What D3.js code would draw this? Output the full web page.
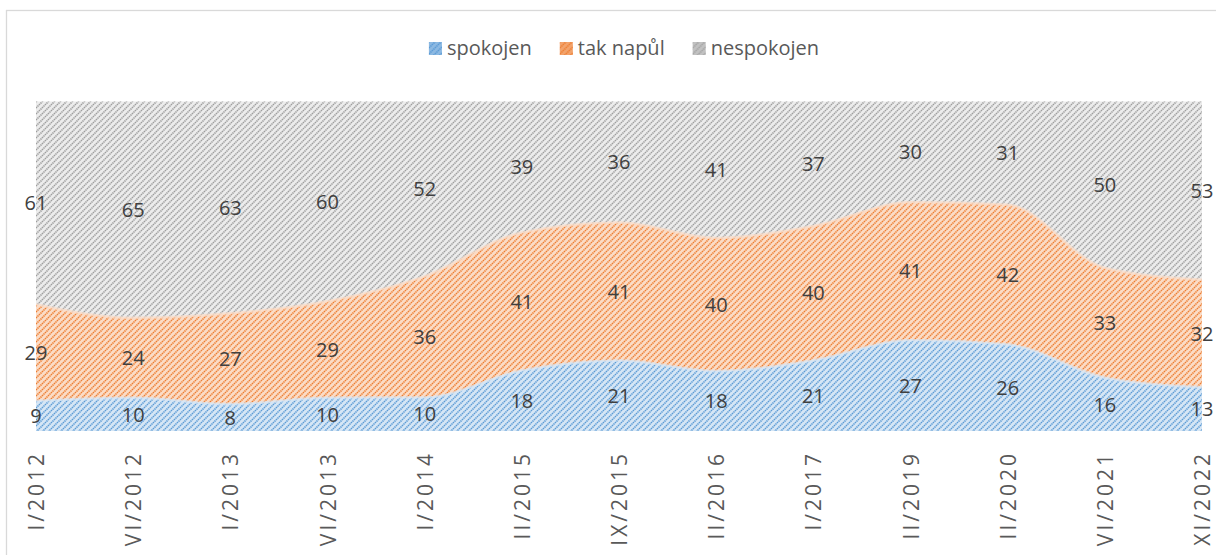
<!DOCTYPE html>
<html>
<head>
<meta charset="utf-8">
<script src="https://cdn.jsdelivr.net/npm/d3@7"></script>
<style>
  body { margin: 0; background: #fff; }
  svg { font-family: "Open Sans", "Liberation Sans", sans-serif; }
</style>
</head>
<body>
<div class="container"></div>
<script>
// data
const periods = ["I/2012", "VI/2012", "I/2013", "VI/2013", "I/2014", "II/2015", "IX/2015",
  "II/2016", "I/2017", "II/2019", "II/2020", "VI/2021", "XI/2022"];
const seriesNames = ["spokojen", "tak napůl", "nespokojen"];
const spokojen   = [9, 10, 8, 10, 10, 18, 21, 18, 21, 27, 26, 16, 13];
const takNapul   = [29, 24, 27, 29, 36, 41, 41, 40, 40, 41, 42, 33, 32];
const nespokojen = [61, 65, 63, 60, 52, 39, 36, 41, 37, 30, 31, 50, 53];

const mainColors = ["#5b9bd5", "#ed7d31", "#a5a5a5"];
const lightColors = ["#d6e6f5", "#fbdcc6", "#ececec"];
const stripeColors = ["#5b9bd5", "#ed7d31", "#9e9e9e"];

const W = 1216, H = 555;
const margin = {top: 101.5, right: 14, bottom: 124, left: 36};

const rows = periods.map((p, i) => ({
  period: p,
  "spokojen": spokojen[i],
  "tak napůl": takNapul[i],
  "nespokojen": nespokojen[i]
}));

const stack = d3.stack().keys(seriesNames).offset(d3.stackOffsetExpand);
const layers = stack(rows);

const svg = d3.select(".container")
  .append("svg")
  .attr("width", W)
  .attr("height", H);

// chart frame
svg.append("rect")
  .attr("x", 6.5).attr("y", 10.5)
  .attr("width", W + 10).attr("height", H + 10)
  .attr("fill", "none")
  .attr("stroke", "#d9d9d9")
  .attr("stroke-width", 1.3);

// hatch patterns
const defs = svg.append("defs");
seriesNames.forEach((name, i) => {
  const pat = defs.append("pattern")
    .attr("id", "hatch" + i)
    .attr("patternUnits", "userSpaceOnUse")
    .attr("width", 6).attr("height", 6);
  pat.append("rect").attr("width", 6).attr("height", 6).attr("fill", lightColors[i]);
  pat.append("path")
    .attr("d", "M-1.5,1.5 l3,-3 M0,6 l6,-6 M4.5,7.5 l3,-3")
    .attr("stroke", stripeColors[i])
    .attr("stroke-width", 1.6)
    .attr("stroke-dasharray", "1.4,0.7");
});

const x = d3.scalePoint()
  .domain(periods)
  .range([margin.left, W - margin.right]);

const y = d3.scaleLinear()
  .domain([0, 1])
  .range([H - margin.bottom, margin.top]);

const area = d3.area()
  .x(d => x(d.data.period))
  .y0(d => y(d[0]))
  .y1(d => y(d[1]))
  .curve(d3.curveMonotoneX);

const topLine = d3.line()
  .x(d => x(d.data.period))
  .y(d => y(d[1]))
  .curve(d3.curveMonotoneX);

svg.selectAll("path.area")
  .data(layers)
  .enter()
  .append("path")
  .attr("class", "area")
  .attr("d", area)
  .attr("fill", (d, i) => `url(#hatch${i})`);

// soft light edge along the top of the lower bands
svg.selectAll("path.edge")
  .data(layers.slice(0, 2))
  .enter()
  .append("path")
  .attr("class", "edge")
  .attr("d", topLine)
  .attr("fill", "none")
  .attr("stroke", (d, i) => lightColors[i])
  .attr("stroke-opacity", 0.7)
  .attr("stroke-width", 2.5);

// data labels centered in each band
layers.forEach(layer => {
  svg.selectAll(null)
    .data(layer)
    .enter()
    .append("text")
    .attr("x", d => x(d.data.period))
    .attr("y", d => y((d[0] + d[1]) / 2))
    .attr("dy", "0.36em")
    .attr("text-anchor", "middle")
    .attr("font-size", "20px")
    .attr("fill", "#404040")
    .text(d => d.data[layer.key]);
});

// x axis labels, rotated
const xAxis = d3.axisBottom(x).tickSize(0).tickPadding(0);
const gx = svg.append("g")
  .attr("transform", `translate(0, ${H - margin.bottom})`)
  .call(xAxis);
gx.select(".domain").remove();
gx.selectAll("text")
  .attr("transform", "rotate(-90)")
  .attr("x", -20)
  .attr("y", 0)
  .attr("dy", "0.36em")
  .style("text-anchor", "end")
  .attr("font-size", "21px")
  .attr("letter-spacing", "3px")
  .attr("font-family", "'Open Sans', sans-serif")
  .attr("fill", "#595959");

// legend
const legend = svg.append("g");
let lx = 0;
const gap = 28;
seriesNames.forEach((name, i) => {
  const g = legend.append("g").attr("transform", `translate(${lx},0)`);
  g.append("rect")
    .attr("x", 0).attr("y", -6)
    .attr("width", 13).attr("height", 13)
    .attr("fill", `url(#hatch${i})`);
  g.append("rect")
    .attr("x", 0).attr("y", -6)
    .attr("width", 13).attr("height", 13)
    .attr("fill", mainColors[i])
    .attr("opacity", 0.6);
  const t = g.append("text")
    .attr("x", 18).attr("y", 0)
    .attr("dy", "0.36em")
    .attr("font-size", "20px")
    .attr("fill", "#595959")
    .text(name);
  lx += 18 + t.node().getComputedTextLength() + gap;
});
const legendWidth = lx - gap;
legend.attr("transform", `translate(${624 - legendWidth / 2}, 48)`);
</script>
</body>
</html>
